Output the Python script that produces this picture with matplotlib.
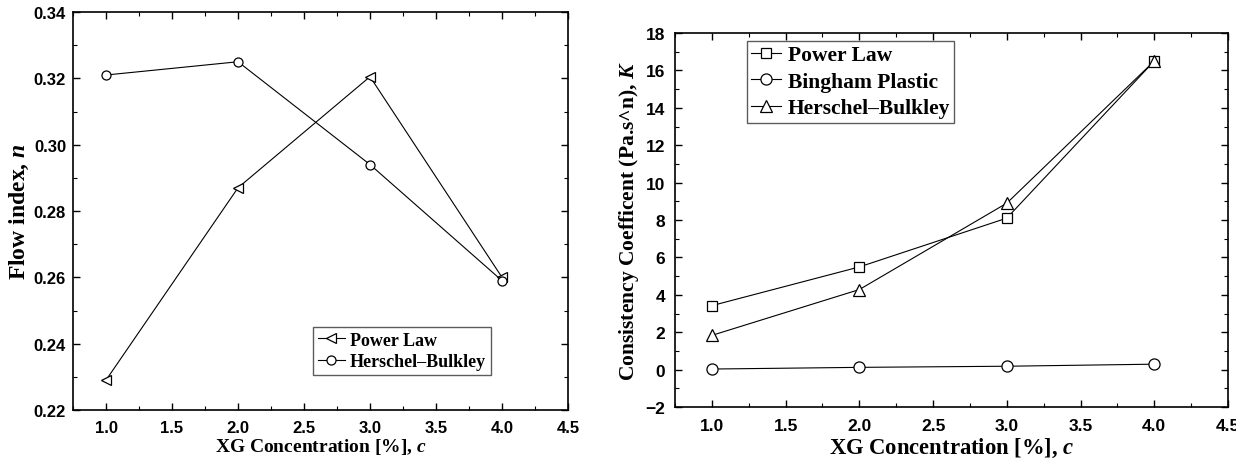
import matplotlib
matplotlib.use("Agg")
import matplotlib.pyplot as plt
from matplotlib.ticker import MultipleLocator, FormatStrFormatter

conc = [1.0, 2.0, 3.0, 4.0]

# Flow index n
n_power_law = [0.229, 0.287, 0.3205, 0.260]
n_herschel = [0.321, 0.325, 0.294, 0.259]

# Consistency coefficient K
k_power_law = [3.42, 5.49, 8.1, 16.5]
k_bingham = [0.03, 0.12, 0.18, 0.29]
k_herschel = [1.83, 4.28, 8.9, 16.5]

xlabel = "XG Concentration [%], $\\mathbfit{c}$"
ylabel_left = "Flow index, $\\mathbfit{n}$"
ylabel_right = "Consistency Coefficent (Pa.s^n), $\\mathbfit{K}$"

serif = 'Liberation Serif'
sans = 'Liberation Sans'

plt.rcParams['font.family'] = [sans]
plt.rcParams['font.weight'] = 'bold'
plt.rcParams['mathtext.fontset'] = 'custom'
plt.rcParams['mathtext.bfit'] = 'Liberation Serif:bold:italic'
plt.rcParams['mathtext.it'] = 'Liberation Serif:italic'
plt.rcParams['mathtext.bf'] = 'Liberation Serif:bold'
plt.rcParams['mathtext.rm'] = 'Liberation Serif'

W, H = 1236, 464
fig = plt.figure(figsize=(W / 100, H / 100), dpi=100)

def px_axes(x0, y0, x1, y1):
    return fig.add_axes([x0 / W, 1 - y1 / H, (x1 - x0) / W, (y1 - y0) / H])

ax1 = px_axes(73, 13, 568, 411)
ax2 = px_axes(675, 34, 1228, 408)

def style(ax, ymaj, ymin, tick_fs, pad_x, pad_y):
    ax.set_xlim(0.75, 4.5)
    ax.xaxis.set_major_locator(MultipleLocator(0.5))
    ax.xaxis.set_minor_locator(MultipleLocator(0.25))
    ax.xaxis.set_major_formatter(FormatStrFormatter('%.1f'))
    ax.yaxis.set_major_locator(MultipleLocator(ymaj))
    ax.yaxis.set_minor_locator(MultipleLocator(ymin))
    ax.tick_params(which='both', direction='in', top=True, right=True, color='black')
    ax.tick_params(which='major', length=5, width=1.0, labelsize=tick_fs)
    ax.tick_params(which='minor', length=3, width=0.8)
    ax.tick_params(axis='x', which='major', pad=pad_x)
    ax.tick_params(axis='y', which='major', pad=pad_y)
    for s in ax.spines.values():
        s.set_linewidth(1.2)

# Left panel
ax1.plot(conc, n_power_law, color='black', lw=0.8, marker='<', ms=7,
         mfc='white', mec='black', mew=0.9, label='Power Law')
ax1.plot(conc, n_herschel, color='black', lw=0.8, marker='o', ms=6.5,
         mfc='white', mec='black', mew=0.9, label='Herschel\u2013Bulkley')
ax1.set_ylim(0.22, 0.34)
style(ax1, 0.02, 0.01, 12, 7, 5)
ax1.yaxis.set_major_formatter(FormatStrFormatter('%.2f'))
ax1.set_xlabel(xlabel, fontfamily=serif, fontweight='bold', fontsize=14, labelpad=1)
ax1.set_ylabel(ylabel_left, fontfamily=serif, fontweight='bold', fontsize=17, labelpad=2)
leg1 = ax1.legend(loc='upper left', bbox_to_anchor=(0.485, 0.2085), borderaxespad=0,
                  prop={'family': serif, 'weight': 'bold', 'size': 13},
                  frameon=True, fancybox=False, handlelength=1.5, handletextpad=0.3,
                  borderpad=0.25, labelspacing=0.27)
leg1.get_frame().set_edgecolor('#333333')
leg1.get_frame().set_linewidth(1.0)

# Right panel
ax2.plot(conc, k_power_law, color='black', lw=0.8, marker='s', ms=7,
         mfc='white', mec='black', mew=0.9, label='Power Law')
ax2.plot(conc, k_bingham, color='black', lw=0.8, marker='o', ms=8,
         mfc='white', mec='black', mew=0.9, label='Bingham Plastic')
ax2.plot(conc, k_herschel, color='black', lw=0.8, marker='^', ms=8.5,
         mfc='white', mec='black', mew=0.9, label='Herschel\u2013Bulkley')
ax2.set_ylim(-2, 18)
style(ax2, 2, 1, 12.5, 8, 7)
ax2.set_xlabel(xlabel, fontfamily=serif, fontweight='bold', fontsize=16.3, labelpad=2)
ax2.set_ylabel(ylabel_right, fontfamily=serif, fontweight='bold', fontsize=15.5, labelpad=3)
leg2 = ax2.legend(loc='upper left', bbox_to_anchor=(0.13, 0.979), borderaxespad=0,
                  prop={'family': serif, 'weight': 'bold', 'size': 15.5},
                  frameon=True, fancybox=False, handlelength=1.4, handletextpad=0.3,
                  borderpad=0.2, labelspacing=0.3)
leg2.get_frame().set_edgecolor('#333333')
leg2.get_frame().set_linewidth(1.0)

fig.savefig('out.png', dpi=100)
